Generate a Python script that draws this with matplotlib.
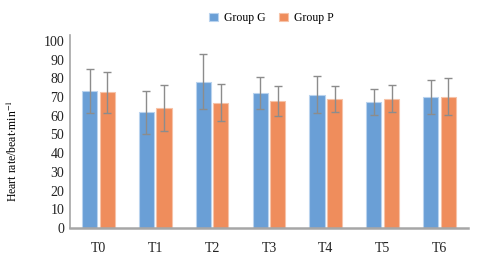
import matplotlib
matplotlib.use("Agg")
import matplotlib.pyplot as plt
import numpy as np

# values
categories = ["T0", "T1", "T2", "T3", "T4", "T5", "T6"]
group_g = [73.4, 61.9, 78.2, 72.2, 71.3, 67.5, 70.0]
group_g_sd = [11.8, 11.5, 14.8, 8.7, 10.0, 7.0, 9.0]
group_p = [72.6, 64.2, 67.0, 68.1, 69.0, 69.2, 70.2]
group_p_sd = [11.0, 12.5, 10.0, 8.0, 6.8, 7.2, 9.8]
y_ticks = [0, 10, 20, 30, 40, 50, 60, 70, 80, 90, 100]

plt.rcParams["font.family"] = ["Liberation Serif", "DejaVu Serif"]
plt.rcParams["mathtext.fontset"] = "stix"

fig = plt.figure(figsize=(4.82, 2.57), dpi=100)
ax = fig.add_axes([0.145, 0.113, 0.826, 0.751])

x = np.arange(len(categories))
w = 0.265
off = 0.155
err_kw = dict(ecolor="#8c8c8c", elinewidth=1.0, capsize=3, capthick=1.0)
ax.bar(x - off, group_g, w, yerr=group_g_sd, color="#6a9fd6", edgecolor="#b9d3ee",
       linewidth=0.8, label="Group G", error_kw=err_kw, zorder=2)
ax.bar(x + off, group_p, w, yerr=group_p_sd, color="#ef8d5c", edgecolor="#f6c3a8",
       linewidth=0.8, label="Group P", error_kw=err_kw, zorder=2)

ax.set_xlim(-0.5, len(categories) - 0.5)
ax.set_ylim(0, 103.2)
ax.set_yticks(y_ticks)
ax.set_xticks(x)
ax.set_xticklabels(categories)
ax.tick_params(axis="both", length=0, labelsize=10, colors="#222222")
ax.tick_params(axis="x", pad=10)
ax.tick_params(axis="y", pad=4)

for side in ("top", "right"):
    ax.spines[side].set_visible(False)
ax.spines["left"].set_color("#a6a6a6")
ax.spines["left"].set_linewidth(1.2)
ax.spines["bottom"].set_color("#a6a6a6")
ax.spines["bottom"].set_linewidth(1.8)

ax.set_ylabel(r"Heart rate/beat$\cdot$min$^{-1}$", fontsize=8.5)
ax.yaxis.set_label_coords(-0.125, 0.40)

fig.legend(loc="center", bbox_to_anchor=(0.563, 0.93), ncol=2, frameon=False,
           fontsize=8.5, handlelength=0.7, handleheight=0.7, columnspacing=1.2,
           handletextpad=0.5)

fig.savefig("out.png", dpi=100)
